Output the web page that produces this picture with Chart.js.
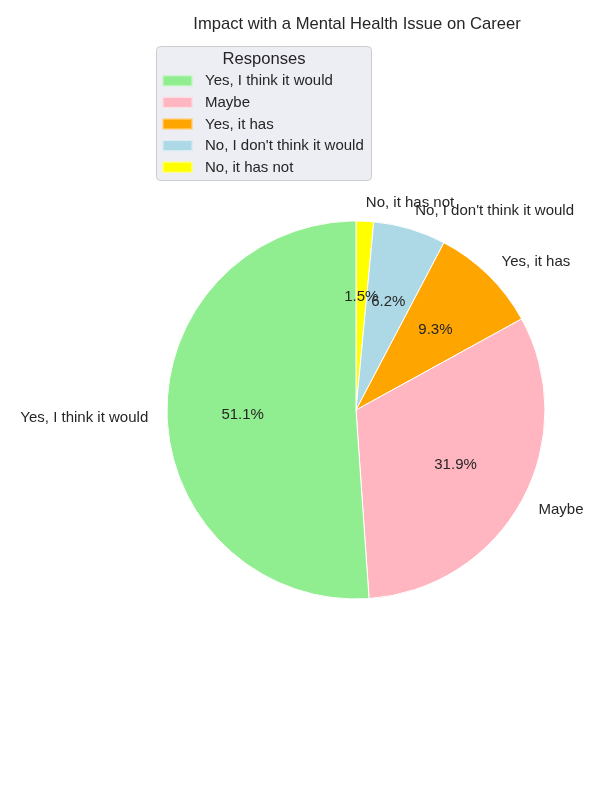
<!DOCTYPE html>
<html>
<head>
<meta charset="utf-8">
<script src="https://cdn.jsdelivr.net/npm/chart.js@4/dist/chart.umd.min.js"></script>
<style>
  html, body { margin: 0; padding: 0; background: #ffffff; }
  #wrap { width: 600px; height: 800px; position: relative; }
</style>
</head>
<body>
<div id="wrap"><canvas id="c" width="600" height="800"></canvas></div>
<script>
const chartTitle = "Impact with a Mental Health Issue on Career";
const legendTitle = "Responses";
const categories = ["Yes, I think it would", "Maybe", "Yes, it has", "No, I don't think it would", "No, it has not"];
const percentages = [51.1, 31.9, 9.3, 6.2, 1.5];
const colors = ["#90EE90", "#FFB6C1", "#FFA500", "#ADD8E6", "#FFFF00"];

const FONT = "'Liberation Sans', Arial, sans-serif";
const TXT = "#262626";

// matplotlib draws counter-clockwise from the top; Chart.js clockwise -> reverse order
const order = categories.map((_, i) => i).reverse();
const dataLabels = order.map(i => categories[i]);
const dataValues = order.map(i => percentages[i]);
const dataColors = order.map(i => colors[i]);

const overlay = {
  id: 'overlay',
  afterDraw(chart) {
    const ctx = chart.ctx;
    const meta = chart.getDatasetMeta(0);
    ctx.save();
    // title
    ctx.fillStyle = TXT;
    ctx.font = "16.6px " + FONT;
    ctx.textAlign = "center";
    ctx.textBaseline = "middle";
    ctx.fillText(chartTitle, 357, 24);

    // slice labels and percentages
    meta.data.forEach((arc, k) => {
      const p = arc.getProps(['x', 'y', 'startAngle', 'endAngle', 'outerRadius'], true);
      const mid = (p.startAngle + p.endAngle) / 2;
      const lx = p.x + Math.cos(mid) * p.outerRadius * 1.1;
      const ly = p.y + Math.sin(mid) * p.outerRadius * 1.1;
      ctx.font = "15px " + FONT;
      ctx.fillStyle = TXT;
      ctx.textBaseline = "middle";
      ctx.textAlign = Math.cos(mid) > 0 ? "left" : "right";
      ctx.fillText(dataLabels[k], lx, ly + 0.5);
      const px = p.x + Math.cos(mid) * p.outerRadius * 0.6;
      const py = p.y + Math.sin(mid) * p.outerRadius * 0.6;
      ctx.textAlign = "center";
      ctx.fillText(dataValues[k].toFixed(1) + "%", px, py + 0.5);
    });

    // legend box
    const bx = 156.5, by = 46.5, bw = 215, bh = 134, r = 4;
    ctx.beginPath();
    ctx.moveTo(bx + r, by);
    ctx.arcTo(bx + bw, by, bx + bw, by + bh, r);
    ctx.arcTo(bx + bw, by + bh, bx, by + bh, r);
    ctx.arcTo(bx, by + bh, bx, by, r);
    ctx.arcTo(bx, by, bx + bw, by, r);
    ctx.closePath();
    ctx.fillStyle = "rgba(234,234,242,0.85)";
    ctx.fill();
    ctx.strokeStyle = "#cccccc";
    ctx.lineWidth = 1;
    ctx.stroke();

    ctx.fillStyle = TXT;
    ctx.font = "16.6px " + FONT;
    ctx.textAlign = "center";
    ctx.textBaseline = "middle";
    ctx.fillText(legendTitle, 264, 59);

    ctx.font = "15px " + FONT;
    ctx.textAlign = "left";
    categories.forEach((c, i) => {
      const cy = 80.8 + i * 21.6;
      ctx.fillStyle = colors[i];
      ctx.fillRect(162.5, cy - 5.5, 30, 11);
      ctx.strokeStyle = "rgba(255,255,255,0.6)";
      ctx.lineWidth = 1;
      ctx.strokeRect(163, cy - 5, 29, 10);
      ctx.fillStyle = TXT;
      ctx.fillText(c, 205, cy + 0.5);
    });
    ctx.restore();
  }
};

new Chart(document.getElementById('c'), {
  type: 'pie',
  data: {
    labels: dataLabels,
    datasets: [{
      data: dataValues,
      backgroundColor: dataColors,
      borderColor: "#ffffff",
      borderWidth: 1
    }]
  },
  options: {
    responsive: false,
    animation: false,
    events: [],
    rotation: 0,
    layout: { padding: { left: 166.5, right: 54.5, top: 220.5, bottom: 200.5 } },
    plugins: {
      legend: { display: false },
      title: { display: false },
      tooltip: { enabled: false }
    }
  },
  plugins: [overlay]
});
</script>
</body>
</html>
